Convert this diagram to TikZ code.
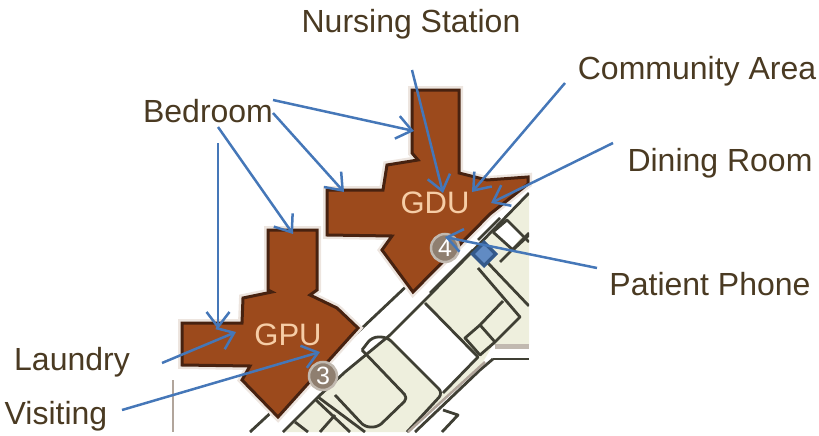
\documentclass[tikz,border=0pt]{standalone}
\usepackage{fontspec}
\setmainfont{Liberation Sans}
\usetikzlibrary{arrows.meta}
\definecolor{lbl}{HTML}{4A3A22}
\definecolor{arw}{HTML}{4577B8}
\definecolor{room}{HTML}{9C4A1C}
\definecolor{edge}{HTML}{472210}
\definecolor{halo}{HTML}{EDE5DF}
\definecolor{cream}{HTML}{EEEFDD}
\definecolor{wall}{HTML}{3F3F34}
\definecolor{pin}{HTML}{8F7F70}
\definecolor{unit}{HTML}{F6CDA6}
\tikzset{
 lab/.style={text=lbl,font=\fontsize{32}{36}\selectfont,inner sep=0pt},
 unitlab/.style={text=unit,font=\fontsize{31}{32}\selectfont,inner sep=0pt},
 pinmark/.style={circle,fill=pin,draw=pin!55,line width=2.5pt,minimum size=28pt,inner sep=0pt,text=white,font=\fontsize{25}{26}\selectfont},
 wing/.style={fill=room,draw=edge,line width=3pt,line join=miter,preaction={draw=halo,line width=8pt}},
 wallline/.style={draw=wall,line width=2.8pt,line join=round},
 ptr/.style={draw=arw,line width=2.5pt,-{Straight Barb[length=15pt,width=23pt,line width=2.5pt]}}
}
\begin{document}
\begin{tikzpicture}[x=1pt,y=-1pt]
\useasboundingbox (0,0) rectangle (819,436);
% floor plan
\begin{scope}
\clip (172,180) rectangle (529,432);
\fill[cream] (529,193) -- (430,295) -- (390,335) -- (345,372) -- (318,397) -- (283,432) -- (410,432) -- (480,367) -- (493,345) -- (529,345) -- cycle;
\fill[white] (390,337) -- (425,303) -- (478,357) -- (443,393) -- cycle;
\fill[white] (493,232) -- (507,220) -- (522,235) -- (513,248) -- cycle;
\draw[draw=pin!70,line width=2.5pt] (173,380) -- (173,432);
\draw[wallline] (250,432) -- (360,330) -- (413,280);
\draw[wallline] (529,193) -- (430,295) -- (390,335) -- (345,372) -- (318,397) -- (283,432);
\draw[wallline,rounded corners=6pt] (362,350) -- (372,337) -- (387,337) -- (443,393) -- (407,432);
\draw[wallline,rounded corners=5pt] (362,350) -- (408,398) -- (378,427) -- (365,427) -- (335,395);
\draw[wallline] (318,397) -- (365,432);
\draw[wallline] (295,422) -- (308,432);
\draw[wallline] (316,400) -- (350,432);
\draw[wallline] (335,415) -- (320,432);
\draw[wallline] (425,303) -- (478,357) -- (443,393);
\draw[wallline] (473,250) -- (430,293);
\draw[wallline] (478,268) -- (520,317) -- (495,342) -- (480,355) -- (465,338) -- (480,325) -- (495,342);
\draw[wallline] (487,262) -- (529,306);
\draw[wallline] (480,325) -- (503,301);
\draw[wallline] (493,232) -- (507,220) -- (529,242);
\draw[wallline] (493,232) -- (513,250) -- (529,235);
\draw[wallline] (500,262) -- (529,233);
\draw[wallline] (478,240) -- (500,218);
\draw[draw=pin!55,line width=5pt] (495,346) -- (529,346);
\draw[wallline] (493,359) -- (529,359);
\draw[wallline] (493,359) -- (480,370) -- (415,432);
\draw[draw=pin!70,line width=2.5pt] (485,362) -- (408,432);
\draw[wallline] (443,410) -- (458,415) -- (442,432);
\fill[arw!75!black] (484,240) -- (498,254) -- (484,268) -- (470,254) -- cycle;
\fill[arw!85!white] (484,245) -- (493,254) -- (484,263) -- (475,254) -- cycle;
\end{scope}
% wings
\path[wing] (412,90) -- (459,90) -- (459,173) -- (487,180) -- (528,177) -- (528,184) -- (490,214) -- (413,292) -- (382,250) -- (392,236) -- (327,235) -- (327,190) -- (383,190) -- (387,165) -- (418,160) -- (412,153) -- cycle;
\path[wing] (268,230) -- (317,230) -- (317,290) -- (310,295) -- (337,308) -- (358,328) -- (278,417) -- (242,380) -- (250,366) -- (182,365) -- (182,323) -- (242,323) -- (243,298) -- (272,292) -- (268,290) -- cycle;
\node[pinmark] (pinfour) at (445,248) {4};
\node[pinmark] (pinthree) at (323,376) {3};
\node[unitlab] (gdu) at (435,203) {GDU};
\node[unitlab] (gpu) at (288,335) {GPU};
% labels
\node[lab] (nursing) at (411,24) {Nursing Station};
\node[lab] (community) at (697,71) {Community Area};
\node[lab] (bedroom) at (208,111) {Bedroom};
\node[lab] (dining) at (720,163) {Dining Room};
\node[lab] (phone) at (710,284) {Patient Phone};
\node[lab] (laundry) at (72,362) {Laundry};
\node[lab] (visiting) at (56,416) {Visiting};
% ends
\coordinate (nursingS) at (412,70); \coordinate (nursingT) at (443,193);
\coordinate (communityS) at (565,83); \coordinate (communityT) at (472,192);
\coordinate (diningS) at (613,143); \coordinate (diningT) at (491,203);
\coordinate (phoneS) at (597,268); \coordinate (phoneT) at (445,237);
\coordinate (bedA) at (273,100); \coordinate (bedAT) at (414,131);
\coordinate (bedB) at (273,113); \coordinate (bedBT) at (344,192);
\coordinate (bedC) at (218,127); \coordinate (bedCT) at (293,234);
\coordinate (bedD) at (218,143); \coordinate (bedDT) at (218,329);
\coordinate (laundryS) at (162,363); \coordinate (laundryT) at (236,332);
\coordinate (visitingS) at (122,410); \coordinate (visitingT) at (320,352);
\draw[ptr] (nursingS) -- (nursingT);
\draw[ptr] (communityS) -- (communityT);
\draw[ptr] (diningS) -- (diningT);
\draw[ptr] (phoneS) -- (phoneT);
\draw[ptr] (bedA) -- (bedAT);
\draw[ptr] (bedB) -- (bedBT);
\draw[ptr] (bedC) -- (bedCT);
\draw[ptr] (bedD) -- (bedDT);
\draw[ptr] (laundryS) -- (laundryT);
\draw[ptr] (visitingS) -- (visitingT);
\end{tikzpicture}
\end{document}
